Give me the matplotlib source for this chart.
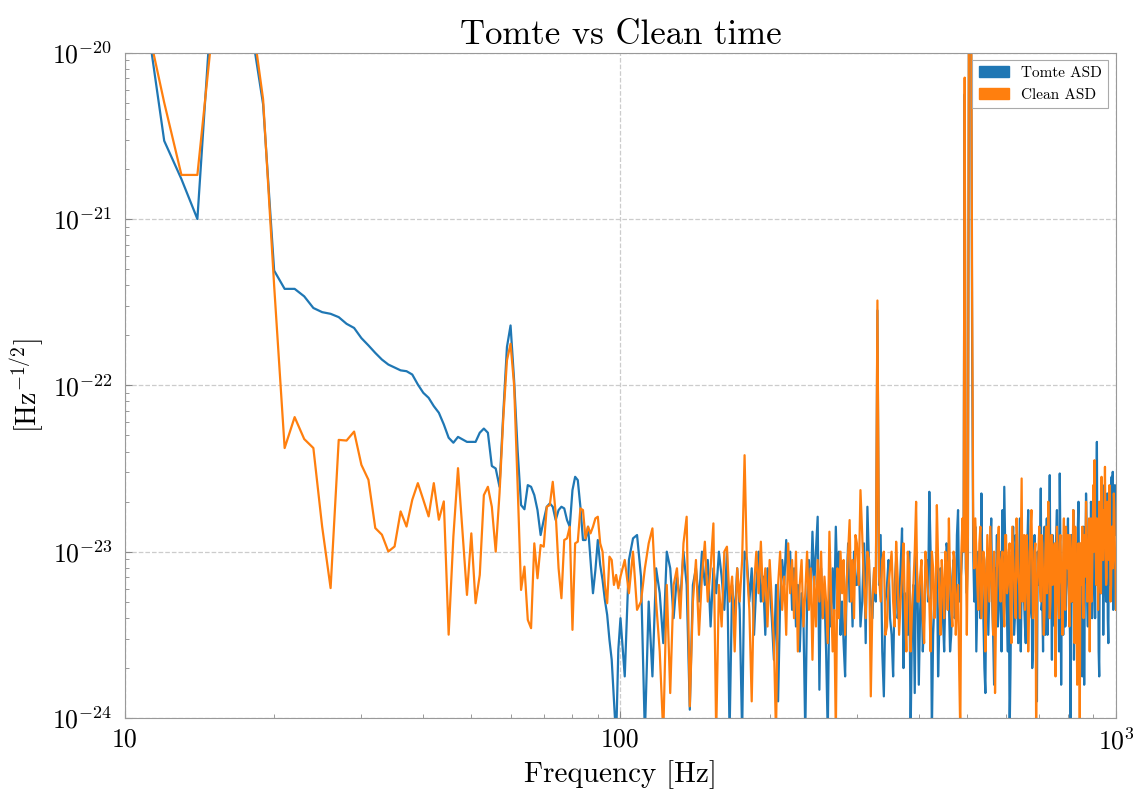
import numpy as np
import matplotlib
matplotlib.use("Agg")
from matplotlib import pyplot as plt
from matplotlib.patches import Patch
from matplotlib.ticker import NullFormatter

# frequency grid (Hz): 1 Hz below 100, 2 Hz up to 300, 2.5 Hz above
freq_low = np.arange(10, 100)
freq_mid = np.arange(100, 300, 2)
freq_high = np.arange(300, 1001, 5)
freq_extra = np.arange(302.5, 1000, 5)

# log10 of ASD
tomte_low = [-19.4, -19.74, -20.53, -20.76, -21.0, -19.64, -19.3, -19.3, -19.86, -20.31,
             -21.31, -21.42, -21.42, -21.465, -21.535, -21.56, -21.57, -21.59, -21.63, -21.655,
             -21.716, -21.76, -21.805, -21.845, -21.875, -21.893, -21.91, -21.915, -21.935, -21.995,
             -22.045, -22.075, -22.125, -22.165, -22.235, -22.315, -22.345, -22.31, -22.325, -22.34,
             -22.34, -22.34, -22.285, -22.26, -22.285, -22.485, -22.50, -22.61, -22.17, -21.77,
             -21.64, -21.97, -22.39, -22.72, -22.745, -22.60, -22.61, -22.66, -22.75, -22.9,
             -22.81, -22.73, -22.71, -22.73, -22.81, -22.75, -22.73, -22.74, -22.81, -22.85,
             -22.63, -22.55, -22.57, -22.73, -22.93, -22.93, -22.85, -23.05, -23.25, -23.11,
             -22.93, -23.08, -23.17, -23.29, -23.38, -23.53, -23.65, -23.89, -24.13, -23.59]
clean_low = [-19.4, -19.78, -20.30, -20.735, -20.735, -19.87, -19.3, -19.3, -19.77, -20.28,
             -21.4, -22.377, -22.191, -22.323, -22.377, -22.85, -23.219, -22.328, -22.332, -22.278,
             -22.478, -22.568, -22.858, -22.898, -22.999, -22.969, -22.758, -22.849, -22.688, -22.588,
             -22.688, -22.788, -22.588, -22.808, -22.698, -23.499, -22.909, -22.498, -22.886, -23.26,
             -22.89, -23.31, -23.14, -22.66, -22.61, -22.73, -23.0, -22.65, -22.2, -21.85,
             -21.75, -22.0, -22.6, -23.23, -23.09, -23.41, -23.46, -22.95, -23.16, -22.96,
             -22.97, -22.73, -22.72, -22.58, -22.77, -23.1, -23.28, -22.93, -22.92, -22.85,
             -23.47, -22.95, -22.94, -22.74, -22.75, -22.92, -22.85, -22.89, -22.85, -22.8,
             -22.79, -22.95, -23.0, -23.2, -23.31, -23.03, -23.05, -23.2, -23.14, -23.22]

tomte_mid = [-23.4, -23.75, -23.05, -22.92, -22.9, -23.15, -24.1, -23.3, -23.75, -23.1,
             -23.25, -23.55, -23.0, -23.1, -23.4, -23.15, -23.3, -23.0, -23.2, -23.95,
             -23.2, -23.1, -23.3, -23.0, -23.2, -23.05, -23.45, -23.1, -23.25, -23.0,
             -23.15, -23.35, -23.0, -24.1, -23.2, -23.4, -23.1, -23.35, -24.1, -23.0,
             -23.05, -23.3, -23.1, -23.5, -23.2, -23.0, -23.3, -23.15, -23.5, -23.1,
             -23.2, -23.4, -23.65, -23.2, -23.9, -23.3, -23.05, -23.2, -22.93, -23.15,
             -23.0, -23.35, -23.1, -23.45, -23.2, -23.6, -23.25, -23.4, -24.1, -23.3,
             -23.05, -23.3, -22.88, -23.2, -23.0, -22.79, -23.83, -23.1, -23.4, -23.25,
             -23.6, -24.1, -23.2, -23.45, -23.1, -23.35, -22.85, -23.2, -23.0, -23.5,
             -23.3, -23.55, -23.75, -23.2, -22.95, -23.3, -23.1, -23.45, -23.0, -23.2]
clean_mid = [-23.15, -23.05, -23.25, -23.0, -23.35, -23.3, -23.1, -22.95, -22.86, -23.3,
             -23.6, -24.1, -23.2, -23.85, -23.2, -23.1, -23.4, -22.95, -22.79, -23.93,
             -23.3, -23.05, -23.5, -23.15, -22.94, -23.3, -23.1, -22.83, -24.1, -23.2,
             -23.45, -23.0, -22.97, -23.3, -23.15, -23.6, -23.1, -23.3, -23.05, -22.42,
             -23.1, -23.35, -23.9, -23.2, -23.0, -23.25, -22.94, -23.3, -23.1, -23.45,
             -23.05, -23.3, -23.55, -24.1, -23.2, -23.0, -23.35, -23.15, -23.5, -22.95,
             -23.25, -23.05, -23.4, -23.0, -23.6, -23.2, -23.05, -23.45, -23.25, -23.0,
             -23.35, -23.1, -23.65, -23.15, -23.45, -23.05, -23.3, -23.0, -23.4, -23.15,
             -23.3, -23.55, -22.88, -23.25, -23.6, -23.35, -24.1, -23.1, -23.4, -23.0,
             -23.25, -23.05, -23.5, -23.2, -23.0, -22.81, -23.3, -23.05, -23.4, -22.9]

tomte_high = [-23.2, -23.45, -22.95, -22.73, -23.3, -23.1, -21.55, -22.9, -23.87, -23.2,
              -23.4, -23.75, -23.05, -23.3, -22.86, -23.25, -23.5, -24.1, -23.2, -23.0,
              -23.8, -23.15, -23.4, -23.05, -22.64, -24.1, -23.3, -23.0, -23.45, -23.15,
              -23.6, -22.95, -23.3, -23.5, -23.05, -23.35, -22.75, -23.2, -22.95, -20.25,
              -23.25, -19.6, -19.7, -23.0, -22.85, -23.3, -23.1, -22.65, -23.4, -23.85,
              -23.0, -23.25, -22.8, -23.5, -23.1, -22.9, -23.35, -23.05, -22.75, -22.61,
              -23.3, -23.6, -24.1, -23.1, -22.85, -23.4, -23.0, -23.55, -22.8, -23.2,
              -22.95, -23.45, -23.1, -22.75, -23.35, -23.0, -23.6, -22.9, -23.25, -23.0,
              -22.85, -22.62, -23.3, -23.0, -23.5, -22.8, -23.15, -22.54, -23.2, -22.9,
              -23.4, -23.0, -22.75, -23.25, -22.53, -23.8, -23.1, -22.9, -23.45, -23.05,
              -22.8, -23.3, -24.1, -23.0, -22.75, -23.35, -22.95, -23.2, -22.7, -23.5,
              -23.05, -23.75, -22.85, -23.2, -22.65, -23.3, -22.9, -23.1, -22.7, -23.4,
              -22.8, -23.0, -22.6, -22.34, -22.9, -23.75, -22.7, -23.2, -22.6, -23.0,
              -22.75, -23.3, -22.65, -23.55, -22.9, -23.2, -22.55, -22.52, -23.0, -22.6,
              -22.65]
clean_high = [-22.95, -22.63, -23.2, -23.0, -23.87, -23.1, -21.49, -23.3, -23.0, -23.45,
              -23.1, -23.3, -22.94, -23.5, -23.15, -23.35, -23.0, -23.6, -23.2, -22.70,
              -23.3, -23.05, -23.55, -23.1, -23.3, -23.0, -23.4, -22.72, -23.25, -23.05,
              -23.4, -23.1, -22.8, -23.35, -23.0, -23.5, -23.2, -24.1, -22.8, -20.15,
              -23.5, -19.5, -19.6, -22.8, -22.8, -23.2, -22.95, -23.4, -23.0, -23.6,
              -22.9, -23.3, -23.05, -23.5, -23.85, -23.1, -22.85, -23.3, -23.0, -23.45,
              -22.9, -23.2, -22.95, -23.55, -23.0, -23.3, -22.8, -23.15, -23.4, -22.56,
              -23.1, -23.35, -22.9, -23.6, -23.05, -22.75, -23.4, -23.0, -24.1, -23.15,
              -22.85, -23.3, -22.95, -23.5, -23.0, -23.25, -22.7, -23.4, -22.9, -23.2,
              -23.0, -23.75, -22.85, -23.3, -22.95, -23.15, -23.5, -22.8, -23.35, -23.05,
              -22.9, -23.45, -23.0, -23.3, -22.75, -23.55, -23.1, -23.8, -22.95, -24.1,
              -23.2, -22.85, -23.4, -23.05, -22.7, -23.3, -23.0, -23.6, -22.8, -23.15,
              -22.6, -22.45, -23.0, -22.8, -23.35, -22.7, -23.15, -22.55, -23.05, -22.75,
              -22.49, -23.2, -22.7, -23.0, -22.6, -23.3, -22.85, -23.1, -22.65, -23.0,
              -23.35]

tomte_extra = [-23.0, -23.3, -23.55, -23.1, -23.4, -23.3, -23.2, -23.6, -23.3, -23.05,
               -23.5, -23.2, -23.4, -23.1, -23.7, -23.3, -23.0, -23.45, -23.85, -23.2,
               -23.35, -23.6, -23.1, -23.3, -23.0, -23.5, -23.2, -23.75, -23.1, -23.4,
               -23.25, -23.0, -23.6, -23.15, -23.4, -22.9, -23.3, -23.1, -23.0, -23.1,
               -23.0, -19.6, -21.8, -23.3, -23.6, -23.0, -23.4, -23.2, -23.7, -23.1,
               -23.5, -23.0, -23.3, -23.8, -23.2, -23.45, -23.0, -23.6, -23.25, -22.95,
               -23.4, -23.05, -23.7, -23.2, -23.5, -22.9, -23.35, -23.1, -23.6, -23.0,
               -23.3, -23.55, -22.95, -23.4, -23.15, -23.7, -23.05, -23.3, -23.9, -23.2,
               -23.0, -23.35, -23.6, -22.85, -23.25, -23.5, -23.0, -23.3, -23.65, -23.1,
               -23.45, -22.9, -23.3, -23.6, -23.0, -23.2, -23.5, -23.05, -23.35, -22.95,
               -23.2, -23.5, -22.9, -23.3, -23.65, -23.05, -23.4, -22.85, -23.25, -23.55,
               -22.95, -23.3, -23.8, -23.1, -22.85, -23.45, -23.0, -23.3, -22.75, -23.2,
               -22.95, -23.4, -22.7, -23.1, -23.6, -22.8, -23.25, -22.9, -23.5, -22.75,
               -23.1, -22.7, -23.4, -22.85, -23.2, -22.65, -23.0, -23.35, -22.7, -22.9]
clean_extra = [-23.2, -22.9, -23.4, -23.05, -23.3, -23.25, -23.15, -23.05, -23.5, -23.2,
               -23.0, -23.45, -23.15, -23.3, -22.95, -23.6, -23.1, -23.35, -23.0, -23.3,
               -23.15, -23.4, -23.0, -23.25, -23.6, -23.1, -23.3, -23.05, -23.5, -23.2,
               -23.0, -23.35, -23.15, -23.45, -23.05, -23.3, -23.7, -23.0, -23.0, -22.9,
               -22.9, -19.4, -21.5, -23.1, -23.0, -23.35, -22.85, -23.2, -23.05, -23.3,
               -23.1, -22.85, -23.25, -23.0, -23.4, -22.95, -23.2, -23.05, -23.3, -22.9,
               -23.25, -23.0, -23.35, -22.85, -23.15, -23.4, -22.95, -23.2, -23.0, -23.3,
               -22.9, -23.2, -23.0, -23.35, -22.85, -23.1, -23.3, -22.95, -23.25, -23.0,
               -23.2, -22.9, -23.15, -23.35, -22.85, -23.1, -23.0, -23.3, -22.9, -23.15,
               -22.95, -23.25, -23.05, -23.4, -22.9, -23.2, -23.0, -23.3, -22.85, -23.1,
               -23.15, -22.9, -23.3, -23.0, -23.2, -22.85, -23.35, -23.05, -23.25, -22.95,
               -23.05, -23.3, -22.9, -23.15, -23.0, -23.25, -22.8, -23.1, -23.3, -22.9,
               -23.0, -22.8, -23.2, -22.95, -23.1, -22.85, -23.25, -22.9, -23.05, -22.8,
               -22.95, -23.15, -22.8, -23.05, -22.9, -23.2, -22.85, -23.0, -22.75, -23.1]

x_ticks = [10, 100, 1000]
x_ticklabels = ['10', '100', r'$10^3$']
y_ticks = [1e-24, 1e-23, 1e-22, 1e-21, 1e-20]

freq = np.concatenate([freq_low, freq_mid, freq_high, freq_extra])
order = np.argsort(freq, kind='stable')
freq = freq[order]
tomte_asd = 10.0 ** np.array(tomte_low + tomte_mid + tomte_high + tomte_extra)[order]
clean_asd = 10.0 ** np.array(clean_low + clean_mid + clean_high + clean_extra)[order]

plt.rcParams['font.family'] = 'serif'
plt.rcParams['font.serif'] = ['cmr10']
plt.rcParams['mathtext.fontset'] = 'cm'
plt.rcParams['axes.formatter.use_mathtext'] = True
plt.rcParams['axes.unicode_minus'] = False

fig = plt.figure(figsize=(11.33, 7.91), dpi=100)
ax = fig.add_axes([0.1103, 0.0923, 0.8747, 0.8411])

ax.plot(freq, tomte_asd, color='#1f77b4', lw=1.6)
ax.plot(freq, clean_asd, color='#ff7f0e', lw=1.6)

ax.set_xscale('log')
ax.set_yscale('log')
ax.set_xlim(10, 1000)
ax.set_ylim(1e-24, 1e-20)
ax.set_xticks(x_ticks)
ax.set_xticklabels(x_ticklabels)
ax.set_yticks(y_ticks)
ax.xaxis.set_minor_formatter(NullFormatter())
ax.yaxis.set_minor_formatter(NullFormatter())

ax.grid(True, which='major', ls='--', color='#cccccc', lw=0.9)
ax.tick_params(which='both', direction='in', colors='#888888', labelcolor='black',
               top=False, right=False)
ax.tick_params(which='major', labelsize=18.5, length=5)
ax.tick_params(which='minor', length=3)
ax.tick_params(axis='y', which='major', pad=9)
ax.tick_params(axis='x', which='major', pad=7)
for s in ax.spines.values():
    s.set_color('#999999')

ax.set_title('Tomte vs Clean time', fontsize=25)
ax.set_xlabel('Frequency [Hz]', fontsize=21)
ax.set_ylabel(r'[Hz$^{-1/2}$]', fontsize=20)

handles = [Patch(color='#1f77b4', label='Tomte ASD'), Patch(color='#ff7f0e', label='Clean ASD')]
leg = ax.legend(handles=handles, loc='upper right', fontsize=11, fancybox=False,
                edgecolor='#aaaaaa', framealpha=1)
leg.get_frame().set_linewidth(0.8)

fig.savefig('out.png', dpi=100)
